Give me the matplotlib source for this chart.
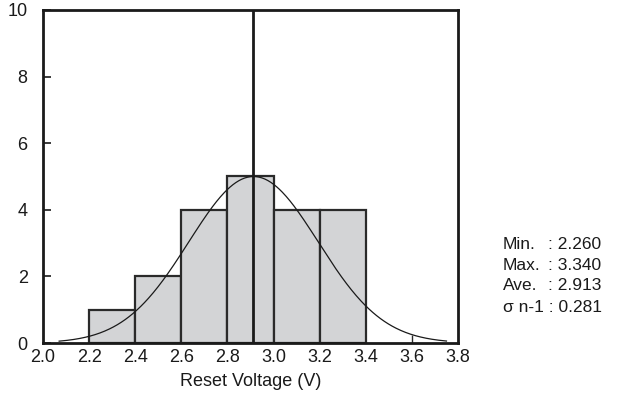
import numpy as np
import matplotlib
matplotlib.use("Agg")
import matplotlib.pyplot as plt

plt.rcParams['font.family'] = ['Liberation Sans', 'DejaVu Sans']

bin_edges = [2.2, 2.4, 2.6, 2.8, 3.0, 3.2, 3.4]
counts = [1, 2, 4, 5, 4, 4]
stat_labels = ["Min.", "Max.", "Ave."]
stat_values = ["2.260", "3.340", "2.913"]
sigma_label = "σ n-1"
sigma_value = "0.281"
mean = 2.913
sigma = 0.281
peak = 5
x_ticks = [2.0, 2.2, 2.4, 2.6, 2.8, 3.0, 3.2, 3.4, 3.6, 3.8]
y_ticks = [0, 2, 4, 6, 8, 10]

fig = plt.figure(figsize=(6.21, 4.05), dpi=100)
ax = fig.add_axes([43/621, 1-343/405, (458-43)/621, (343-10)/405])

lefts = bin_edges[:-1]
widths = np.diff(bin_edges)
ax.bar(lefts, counts, width=widths, align='edge', color='#d3d4d6',
       edgecolor='#2a2a2a', linewidth=1.6, zorder=2)

xs = np.linspace(2.07, 3.75, 400)
ys = peak * np.exp(-0.5 * ((xs - mean) / sigma) ** 2)
ax.plot(xs, ys, color='#1a1a1a', lw=0.9, zorder=3)

# empty-bin edge at 3.6
x36 = 3.6
ax.vlines(x36, 0, peak * np.exp(-0.5 * ((x36 - mean) / sigma) ** 2),
          color='#2a2a2a', lw=1.0, zorder=3)

ax.axvline(mean, color='#1a1a1a', lw=2.0, zorder=4)

ax.set_xlim(2.0, 3.8)
ax.set_ylim(0, 10)
ax.set_xticks(x_ticks)
ax.set_xticklabels([f"{v:.1f}" for v in x_ticks])
ax.set_yticks(y_ticks)
ax.tick_params(axis='x', length=0, labelsize=13, pad=4, colors='#1a1a1a')
ax.tick_params(axis='y', direction='in', length=6, width=1.2, labelsize=13,
               pad=11, colors='#1a1a1a')
for s in ax.spines.values():
    s.set_linewidth(2.0)
    s.set_color('#1a1a1a')
    s.set_zorder(5)
ax.set_xlabel("Reset Voltage (V)", fontsize=13, labelpad=5, color='#1a1a1a')

ys_px = [244, 265, 286]
for lab, val, yp in zip(stat_labels, stat_values, ys_px):
    fig.text(503/621, 1 - yp/405, lab, fontsize=12.5, va='center', ha='left', color='#1a1a1a')
    fig.text(548/621, 1 - yp/405, ": " + val, fontsize=12.5, va='center', ha='left', color='#1a1a1a')
fig.text(503/621, 1 - 307/405, f"{sigma_label} : {sigma_value}", fontsize=12.5,
         va='center', ha='left', color='#1a1a1a')

fig.savefig("out.png", dpi=100)
